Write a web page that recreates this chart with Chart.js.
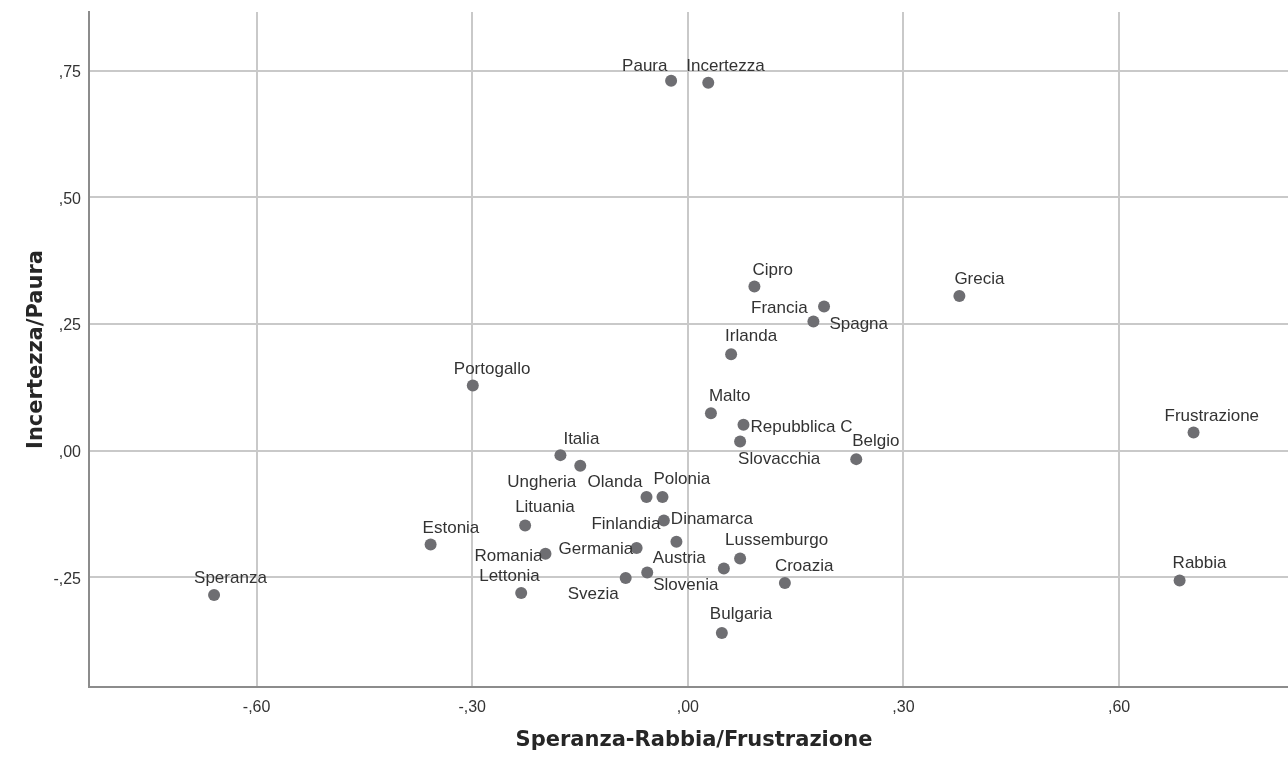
<!DOCTYPE html>
<html>
<head>
<meta charset="utf-8">
<script src="https://cdn.jsdelivr.net/npm/chart.js@4/dist/chart.umd.min.js"></script>
<style>
    html, body { margin: 0; padding: 0; background: #fff; overflow: hidden; width: 1288px; height: 764px; }
    #wrap { position: relative; width: 1305px; height: 764px; }
</style>
</head>
<body>
<div id="wrap"><canvas id="chart"></canvas></div>
<script>
// point names and coordinates
const names = ['Paura', 'Incertezza', 'Cipro', 'Francia', 'Spagna', 'Grecia', 'Irlanda', 'Malto',
    'Repubblica C', 'Slovacchia', 'Belgio', 'Frustrazione', 'Rabbia', 'Speranza', 'Portogallo', 'Italia',
    'Ungheria', 'Olanda', 'Polonia', 'Lituania', 'Estonia', 'Dinamarca', 'Finlandia', 'Romania',
    'Germania', 'Austria', 'Slovenia', 'Svezia', 'Lettonia', 'Lussemburgo', 'Croazia', 'Bulgaria'];
const xValues = [-0.0233, 0.0284, 0.0926, 0.1895, 0.1747, 0.3778, 0.0602, 0.0321,
    0.0774, 0.0727, 0.2343, 0.7036, 0.6842, -0.6592, -0.2992, -0.1773,
    -0.1497, -0.0575, -0.0353, -0.2264, -0.3579, -0.0334, -0.0159, -0.1981,
    -0.0713, 0.0501, -0.0565, -0.0865, -0.2319, 0.0727, 0.1350, 0.0473];
const yValues = [0.7304, 0.7265, 0.3239, 0.2844, 0.2548, 0.3055, 0.1904, 0.0740,
    0.0509, 0.0180, -0.0168, 0.0357, -0.2564, -0.2852, 0.1285, -0.0089,
    -0.0300, -0.0918, -0.0918, -0.1478, -0.1853, -0.1380, -0.1800, -0.2037,
    -0.1924, -0.2327, -0.2406, -0.2516, -0.2812, -0.2129, -0.2615, -0.3602];
const xTickValues = [-0.6, -0.3, 0, 0.3, 0.6];
const yTickValues = [-0.25, 0, 0.25, 0.5, 0.75];
const xTitle = 'Speranza-Rabbia/Frustrazione';
const yTitle = 'Incertezza/Paura';

// where each label sits relative to its point (px), same order as names
const labelOffsets = [[-49, -10], [-22, -12], [-2, -12], [-73, 6], [16, 7], [-5, -12], [-6, -13], [-2, -12],
    [7, 7], [-2, 22], [-4, -13], [-29, -12], [-7, -12], [-20, -12], [-19, -12], [3, -11],
    [-73, 21], [-59, -10], [-9, -13], [-10, -13], [-8, -11], [7, 3], [-85, -13], [-71, 7],
    [-78, 6], [-71, -5], [6, 18], [-58, 21], [-42, -12], [-15, -13], [-10, -12], [-12, -14]];

// SPSS style: ,25  -,60  ,00
function spssFormat(v) {
    let s = Math.abs(v).toFixed(2).replace(/^0/, '').replace('.', ',');
    return (v < -1e-9 ? '-' : '') + s;
}

const pointLabels = {
    id: 'pointLabels',
    afterDatasetsDraw(chart) {
        const ctx = chart.ctx;
        const meta = chart.getDatasetMeta(0);
        ctx.save();
        ctx.font = '17px "Liberation Sans", Arial, sans-serif';
        ctx.fillStyle = '#333333';
        ctx.textAlign = 'left';
        ctx.textBaseline = 'alphabetic';
        meta.data.forEach(function(pt, i) {
            const off = labelOffsets[i];
            ctx.fillText(names[i], pt.x + off[0], pt.y + off[1]);
        });
        ctx.restore();
    }
};

const points = xValues.map((x, i) => ({ x: x, y: yValues[i] }));

new Chart(document.getElementById('chart'), {
    type: 'scatter',
    data: {
        datasets: [{
            data: points,
            backgroundColor: '#6e6e72',
            borderWidth: 0,
            pointRadius: 6,
            pointHoverRadius: 6
        }]
    },
    options: {
        responsive: true,
        maintainAspectRatio: false,
        animation: false,
        devicePixelRatio: 1,
        events: [],
        layout: { padding: { top: 12, right: 0, left: 0, bottom: 0 } },
        plugins: {
            legend: { display: false },
            tooltip: { enabled: false }
        },
        scales: {
            x: {
                type: 'linear',
                min: -0.8332,
                max: 0.8503,
                afterFit: function(scale) {
                    scale.height = 77;
                    scale.paddingLeft = 0;
                    scale.paddingRight = 0;
                },
                afterBuildTicks: function(scale) { scale.ticks = xTickValues.map(v => ({ value: v })); },
                grid: { color: '#c9c9c9', lineWidth: 2, drawTicks: false },
                border: { color: '#8c8c8c', width: 2 },
                ticks: {
                    padding: 11,
                    color: '#333333',
                    font: { family: '"Liberation Sans", Arial, sans-serif', size: 16 },
                    callback: spssFormat
                },
                title: {
                    display: true,
                    text: xTitle,
                    color: '#262626',
                    font: { family: '"DejaVu Sans", sans-serif', size: 21, weight: 'bold' },
                    padding: { top: 0, bottom: 11 }
                }
            },
            y: {
                type: 'linear',
                min: -0.4667,
                max: 0.866,
                afterFit: function(scale) {
                    scale.width = 89;
                    scale.paddingTop = 0;
                    scale.paddingBottom = 0;
                },
                afterBuildTicks: function(scale) { scale.ticks = yTickValues.map(v => ({ value: v })); },
                grid: { color: '#c9c9c9', lineWidth: 2, drawTicks: false },
                border: { color: '#8c8c8c', width: 2 },
                ticks: {
                    padding: 8,
                    labelOffset: 2,
                    color: '#333333',
                    font: { family: '"Liberation Sans", Arial, sans-serif', size: 16 },
                    callback: spssFormat
                },
                title: {
                    display: true,
                    text: yTitle,
                    color: '#262626',
                    font: { family: '"DejaVu Sans", sans-serif', size: 21, weight: 'bold' },
                    padding: { top: 24, bottom: 0 }
                }
            }
        }
    },
    plugins: [pointLabels]
});
</script>
</body>
</html>
